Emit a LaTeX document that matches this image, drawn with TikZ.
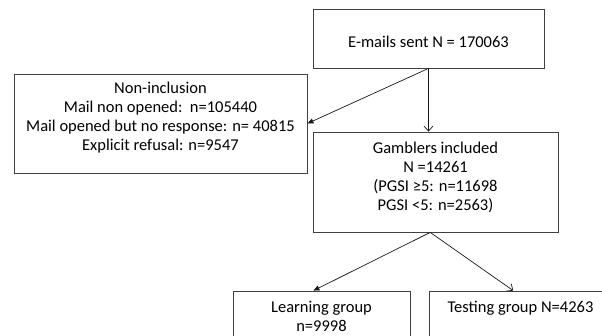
\documentclass[tikz,border=0pt]{standalone}
\usepackage{fontspec}
\setmainfont{Carlito}
\usetikzlibrary{arrows.meta}
\begin{document}
\begin{tikzpicture}[x=1pt,y=-1pt,
  box/.style={draw=black!75, line width=0.8pt, rectangle, inner sep=0pt},
  txt/.style={inner sep=0pt, anchor=base, font=\fontsize{16.5}{19}\selectfont},
  conn/.style={draw=black!90, line width=0.7pt},
  openarr/.style={conn, -{Straight Barb[length=5pt,width=9pt]}},
  fillarr/.style={conn, -{Triangle[length=6pt,width=5pt]}}]
\useasboundingbox (0,0) rectangle (602,335);
\node[box, minimum width=231pt, minimum height=59pt] (top) at (428.5,38.5) {};
\node[box, minimum width=293pt, minimum height=99pt] (non) at (160.5,123.5) {};
\node[box, minimum width=245pt, minimum height=100pt] (gamb) at (435.5,182) {};
\node[box, minimum width=177pt, minimum height=69pt] (learn) at (321.5,325.5) {};
\node[box, minimum width=182pt, minimum height=69pt] (test) at (520,325.5) {};
\node[txt] (t1) at (428.5,47) {E-mails sent N = 170063};
\node[txt] (n1) at (160.5,93) {Non-inclusion};
\node[txt] (n2) at (160.5,112) {Mail non opened:\ \ n=105440};
\node[txt] (n3) at (160.5,131) {Mail opened but no response: n= 40815};
\node[txt] (n4) at (160.5,150) {Explicit refusal: n=9547};
\node[txt] (g1) at (435.5,153) {Gamblers included};
\node[txt] (g2) at (435.5,172) {N =14261};
\node[txt] (g3) at (435.5,191) {(PGSI ≥5: n=11698};
\node[txt] (g4) at (435.5,210) {PGSI <5: n=2563)};
\node[txt] (l1) at (321.5,312) {Learning group};
\node[txt] (l2) at (321.5,331) {n=9998};
\node[txt] (tt1) at (520.5,312) {Testing group N=4263};
\draw[openarr] (top.south) -- (top.south |- gamb.north);
\draw[fillarr] (top.south) -- (non.east);
\draw[fillarr] (gamb.264) -- (learn.103);
\draw[openarr] (gamb.264) -- (test.101);
\end{tikzpicture}
\end{document}
